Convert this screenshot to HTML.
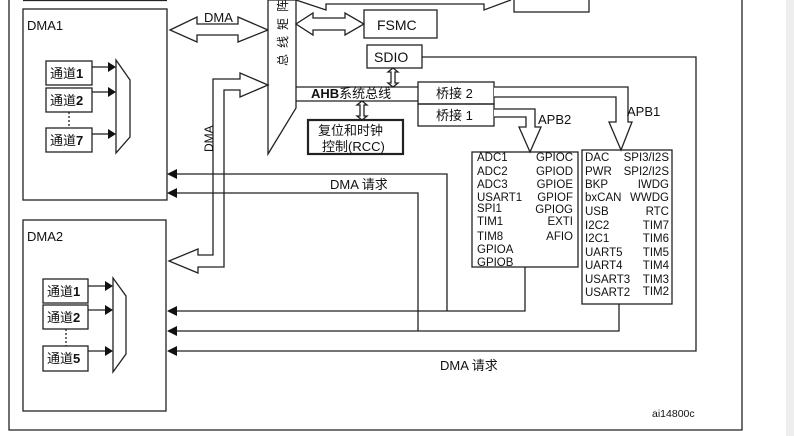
<!DOCTYPE html>
<html><head><meta charset="utf-8"><style>
body{margin:0;background:#fff}
svg{display:block}
text{font-family:"Liberation Sans","Noto Sans CJK SC",sans-serif;fill:#111}
</style></head><body>
<svg width="794" height="436" viewBox="0 0 794 436" xmlns="http://www.w3.org/2000/svg">
<rect x="786" y="0" width="8" height="436" fill="#eeeeee"/>
<g fill="none" stroke="#222" stroke-width="1.3">
<!-- outer frame -->
<polyline points="9,0 9,430 742,430 742,0"/>
<line x1="23" y1="0.5" x2="167" y2="0.5"/>
<!-- DMA1 -->
<rect x="23" y="9" width="144" height="191"/>
<rect x="46" y="61" width="46" height="24"/>
<rect x="46" y="88" width="46" height="24"/>
<rect x="46" y="128" width="46" height="24"/>
<line x1="69" y1="112" x2="69" y2="128" stroke-dasharray="2,2"/>
<polygon points="116,60 130,80 130,137 116,153"/>
<line x1="92" y1="67" x2="108" y2="67"/>
<line x1="92" y1="92" x2="108" y2="92"/>
<line x1="92" y1="134" x2="108" y2="134"/>
<!-- DMA2 -->
<rect x="23" y="220" width="143" height="191"/>
<rect x="43" y="279" width="45" height="24"/>
<rect x="43" y="305" width="45" height="24"/>
<rect x="43" y="346" width="45" height="25"/>
<line x1="66" y1="329" x2="66" y2="346" stroke-dasharray="2,2"/>
<polygon points="113,278 126,296 126,354 113,372"/>
<line x1="88" y1="286" x2="105" y2="286"/>
<line x1="88" y1="310" x2="105" y2="310"/>
<line x1="88" y1="351" x2="105" y2="351"/>
<!-- DMA horizontal double arrow -->
<polygon points="170,30 197,17 197,24 238,24 238,17 268,30 238,42 238,35 197,35 197,42" fill="#fff"/>
<!-- bus matrix -->
<polygon points="268,0 296,0 296,108 268,154" fill="#fff"/>
<!-- SRAM link -->
<polyline points="296,0 326,10 326,4 484,4 484,10 511,0"/>
<rect x="514" y="-10" width="75" height="22"/>
<!-- FSMC -->
<polygon points="296,24 313,13 313,18 345,18 345,13 364,24 345,35 345,30 313,30 313,35" fill="#fff"/>
<rect x="364" y="10" width="73" height="28"/>
<!-- SDIO -->
<rect x="367" y="45" width="55" height="23"/>
<polyline points="422,57 696,57 696,351 170,351"/>
<polygon points="393,68 398,72 395,72 395,83 398,83 393,87 388,83 391,83 391,72 388,72" fill="#fff"/>
<!-- AHB -->
<line x1="296" y1="87" x2="418" y2="87"/>
<line x1="296" y1="101" x2="418" y2="101"/>
<rect x="418" y="82" width="76" height="22"/>
<rect x="418" y="104" width="76" height="22"/>
<polygon points="362,101 367,105 364,105 364,116 367,116 362,120 357,116 360,116 360,105 357,105" fill="#fff"/>
<rect x="308" y="120" width="95" height="34" stroke-width="2.2"/>
<!-- APB2 -->
<polyline points="494,109 535,109 535,127 541,127 530,152 519,127 526,127 526,117 494,117" fill="#fff"/>
<!-- APB1 -->
<polyline points="494,87 628,87 628,122 632,122 621,150 609,122 616,122 616,97 494,97" fill="#fff"/>
<rect x="472" y="152" width="106" height="115"/>
<rect x="582" y="150" width="90" height="154"/>
<!-- DMA vertical bus -->
<polygon points="169,261 198,249 198,255 213,255 213,79 240,79 240,73 268,85 240,97 240,90 224,90 224,267 198,267 198,273" fill="#fff"/>
<!-- DMA requests -->
<polyline points="176,174 447,174 447,311"/>
<polyline points="176,193 418,193 418,331"/>
<polyline points="176,311 525,311 525,267"/>
<polyline points="176,331 619,331 619,304"/>
</g>
<g fill="#111">
<polygon points="108,62 116,67 108,72"/><polygon points="108,87 116,92 108,97"/><polygon points="108,129 116,134 108,139"/>
<polygon points="105,281 113,286 105,291"/><polygon points="105,305 113,310 105,315"/><polygon points="105,346 113,351 105,356"/>
<polygon points="167,174 177,169 177,179"/><polygon points="167,193 177,188 177,198"/>
<polygon points="167,311 177,306 177,316"/><polygon points="167,331 177,326 177,336"/><polygon points="167,351 177,346 177,356"/>
</g>
<g font-size="13">
<text x="27" y="30">DMA1</text>
<text x="27" y="241">DMA2</text>
<text x="50" y="78">通道<tspan font-weight="bold">1</tspan></text>
<text x="50" y="105">通道<tspan font-weight="bold">2</tspan></text>
<text x="50" y="145">通道<tspan font-weight="bold">7</tspan></text>
<text x="47" y="296">通道<tspan font-weight="bold">1</tspan></text>
<text x="47" y="322">通道<tspan font-weight="bold">2</tspan></text>
<text x="47" y="363">通道<tspan font-weight="bold">5</tspan></text>
<text x="204" y="22">DMA</text>
<text x="377" y="30" font-size="14">FSMC</text>
<text x="374" y="62" font-size="14">SDIO</text>
<text x="311" y="98" font-weight="bold">AHB<tspan font-weight="normal">系统总线</tspan></text>
<text x="436" y="98">桥接 2</text>
<text x="436" y="120">桥接 1</text>
<text x="318" y="135">复位和时钟</text>
<text x="322" y="151">控制(RCC)</text>
<text x="538" y="124">APB2</text>
<text x="627" y="116">APB1</text>
<text x="330" y="189">DMA 请求</text>
<text x="440" y="370">DMA 请求</text>
<text transform="translate(287,66) rotate(-90)" font-size="12" letter-spacing="6">总线矩阵</text>
<text transform="translate(213,152) rotate(-90)" font-size="12">DMA</text>
</g>
<g font-size="11.5">
<text x="477" y="161">ADC1</text><text x="477" y="175">ADC2</text><text x="477" y="188">ADC3</text><text x="477" y="201">USART1</text><text x="477" y="212">SPI1</text><text x="477" y="225">TIM1</text><text x="477" y="240">TIM8</text><text x="477" y="253">GPIOA</text><text x="477" y="266">GPIOB</text>
</g>
<g font-size="11.5" text-anchor="end">
<text x="573" y="161">GPIOC</text><text x="573" y="175">GPIOD</text><text x="573" y="188">GPIOE</text><text x="573" y="201">GPIOF</text><text x="573" y="213">GPIOG</text><text x="573" y="225">EXTI</text><text x="573" y="240">AFIO</text>
</g>
<g font-size="11.5">
<text x="585" y="161">DAC</text><text x="585" y="175">PWR</text><text x="585" y="188">BKP</text><text x="585" y="201">bxCAN</text><text x="585" y="215">USB</text><text x="585" y="229">I2C2</text><text x="585" y="242">I2C1</text><text x="585" y="256">UART5</text><text x="585" y="269">UART4</text><text x="585" y="283">USART3</text><text x="585" y="296">USART2</text>
</g>
<g font-size="11.5" text-anchor="end">
<text x="669" y="161">SPI3/I2S</text><text x="669" y="175">SPI2/I2S</text><text x="669" y="188">IWDG</text><text x="669" y="201">WWDG</text><text x="669" y="215">RTC</text><text x="669" y="229">TIM7</text><text x="669" y="242">TIM6</text><text x="669" y="256">TIM5</text><text x="669" y="269">TIM4</text><text x="669" y="283">TIM3</text><text x="669" y="295">TIM2</text>
</g>
<text x="652" y="417" font-size="10.5">ai14800c</text>
</svg>
</body></html>
